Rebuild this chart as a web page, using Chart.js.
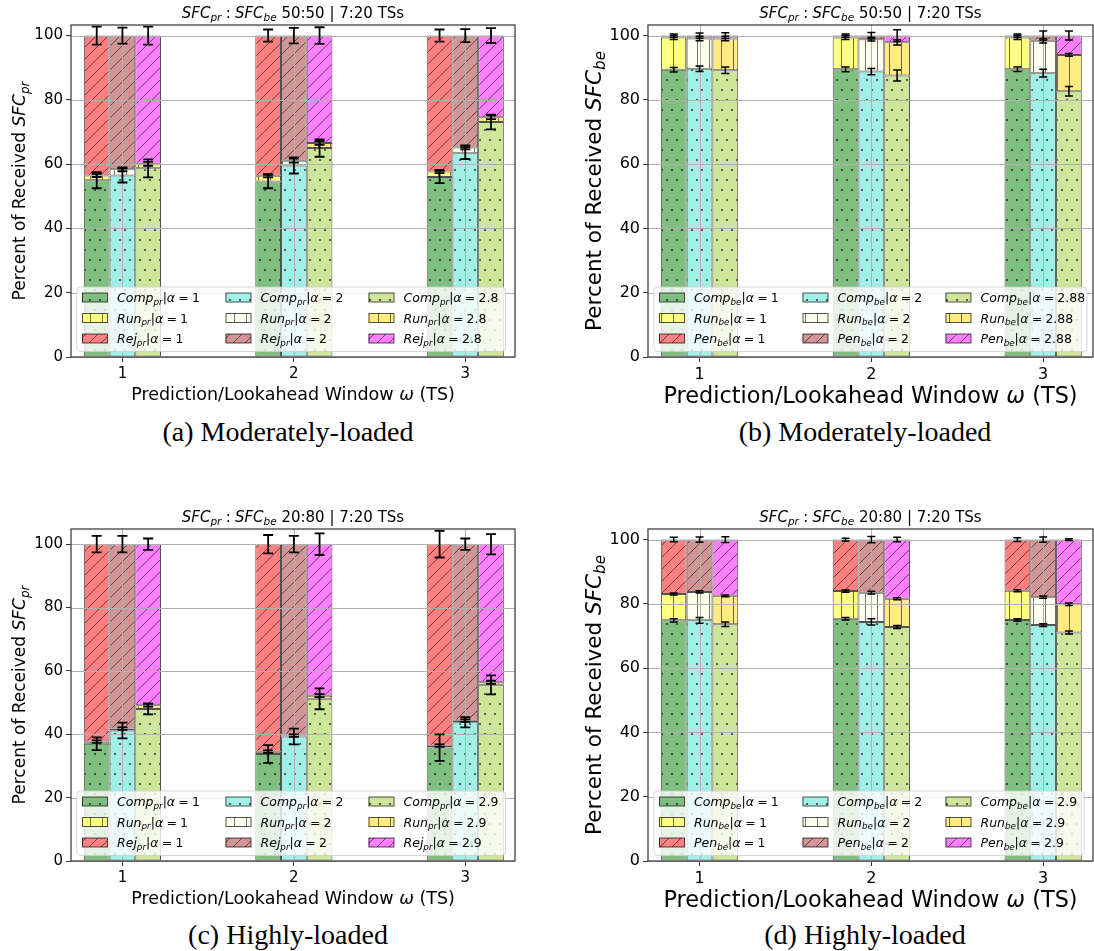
<!DOCTYPE html>
<html>
<head>
<meta charset="utf-8">
<script src="https://cdn.jsdelivr.net/npm/chart.js@4.4.1/dist/chart.umd.min.js"></script>
<style>
  html, body { margin: 0; padding: 0; background: #fff; }
  #fig { position: relative; width: 1094px; height: 951px; overflow: hidden; background: #fff; }
  #fig canvas { position: absolute; }
  .cap { position: absolute; width: 420px; text-align: center; font-family: "Liberation Serif", "DejaVu Serif", serif; font-size: 28px; line-height: 32px; color: #000; white-space: nowrap; }
</style>
</head>
<body>
<div id="fig">
  <canvas id="pa" width="547" height="410" style="left:0;top:0"></canvas>
  <canvas id="pb" width="547" height="410" style="left:547px;top:0"></canvas>
  <canvas id="pc" width="547" height="410" style="left:0;top:504px"></canvas>
  <canvas id="pd" width="547" height="410" style="left:547px;top:504px"></canvas>
  <div class="cap" style="left:78px;top:416px">(a) Moderately-loaded</div>
  <div class="cap" style="left:655px;top:416px">(b) Moderately-loaded</div>
  <div class="cap" style="left:78px;top:919px">(c) Highly-loaded</div>
  <div class="cap" style="left:655px;top:919px">(d) Highly-loaded</div>
</div>
<script>
// Prediction / lookahead windows (x categories)
const windows = [1, 2, 3];
const yTicks = [0, 20, 40, 60, 80, 100];

// (a) priority SFCs, 50:50 mix — rows: alpha, columns: window
const alphasA = ['1', '2', '2.8'];
const compA = [[55.0, 54.6, 56.0], [56.5, 59.6, 63.4], [58.7, 65.0, 73.1]];
const runA  = [[1.5, 1.8, 1.7], [1.9, 1.5, 1.8], [1.4, 1.6, 1.5]];
const rejA  = [[43.5, 43.6, 42.3], [41.6, 38.9, 34.8], [39.9, 33.4, 25.4]];
const compErrA = [[2.5, 2.1, 1.9], [2.2, 2.5, 1.8], [2.8, 2.7, 2.3]];
const runErrA  = [[0.5, 0.5, 0.5], [0.6, 0.6, 0.6], [0.6, 0.6, 0.6]];
const rejErrA  = [[2.8, 1.9, 1.9], [2.5, 2.4, 2.0], [2.8, 2.6, 2.3]];

// (b) best-effort SFCs, 50:50 mix
const alphasB = ['1', '2', '2.88'];
const compB = [[89.4, 89.5, 89.5], [89.7, 88.8, 88.3], [89.2, 87.6, 82.7]];
const runB  = [[10.0, 9.9, 9.9], [9.4, 10.1, 10.1], [9.9, 10.3, 11.3]];
const penB  = [[0.6, 0.6, 0.6], [0.9, 1.1, 1.6], [0.9, 2.1, 6.0]];
const compErrB = [[0.7, 0.75, 0.7], [0.85, 1.0, 1.2], [1.0, 1.7, 1.5]];
const runErrB  = [[0.6, 0.6, 0.6], [0.7, 0.6, 0.7], [0.7, 0.8, 0.4]];
const penErrB  = [[0.5, 0.5, 0.5], [0.8, 1.0, 1.4], [0.9, 1.8, 1.4]];

// (c) priority SFCs, 20:80 mix
const alphasC = ['1', '2', '2.9'];
const compC = [[37.0, 33.8, 35.8], [41.2, 39.3, 43.8], [48.0, 51.2, 55.6]];
const runC  = [[0.7, 0.7, 0.6], [0.6, 0.3, 0.5], [1.2, 1.0, 0.8]];
const rejC  = [[62.3, 65.5, 63.6], [58.2, 60.4, 55.7], [50.8, 47.8, 43.6]];
const compErrC = [[2.0, 2.8, 4.2], [2.5, 2.5, 1.6], [1.7, 3.3, 3.0]];
const runErrC  = [[0.4, 0.4, 0.4], [0.4, 0.4, 0.4], [0.5, 0.5, 0.5]];
const rejErrC  = [[2.6, 2.9, 4.2], [2.6, 2.6, 1.8], [1.8, 3.4, 3.2]];

// (d) best-effort SFCs, 20:80 mix
const alphasD = ['1', '2', '2.9'];
const compD = [[74.9, 75.4, 75.0], [74.9, 74.4, 73.4], [73.7, 72.8, 71.1]];
const runD  = [[8.2, 8.6, 9.1], [8.8, 9.1, 8.7], [8.8, 8.8, 8.8]];
const penD  = [[16.9, 16.0, 15.9], [16.3, 16.5, 17.9], [17.5, 18.4, 20.1]];
const compErrD = [[0.5, 0.4, 0.4], [0.9, 1.0, 0.4], [0.7, 0.45, 0.45]];
const runErrD  = [[0.3, 0.35, 0.3], [0.35, 0.4, 0.35], [0.3, 0.3, 0.4]];
const penErrD  = [[0.7, 0.4, 0.6], [0.8, 1.0, 0.8], [0.9, 0.7, 0.3]];

// ---- styling ----
const SANS = '"DejaVu Sans"';
const barOffsets = [-0.15, 0, 0.15];          // bar position of each alpha around its window
const fills = [
  ['#7fbf7f', '#a0f0e8', '#cde69a'],          // completed
  ['#ffff80', '#fffff0', '#ffeb80'],          // running
  ['#ff8080', '#d29595', '#ff80ff']           // rejected / penalised
];
const hatchKinds = ['dots', 'vline', 'diag'];
const EDGE = 'rgba(0,0,0,0.68)';

function makePattern(ctx, fill, kind) {
  const P = kind === 'dots' ? 10 : 12;
  const h = kind === 'dots' ? 2 * P : P;
  const c = document.createElement('canvas');
  c.width = P; c.height = h;
  const g = c.getContext('2d');
  g.fillStyle = fill;
  g.fillRect(0, 0, P, h);
  if (kind === 'dots') {
    g.fillStyle = 'rgba(0,0,0,0.72)';
    [[0, 0], [P, 0], [0, h], [P, h], [P / 2, P]].forEach(([px, py]) => {
      g.beginPath(); g.arc(px, py, 1.1, 0, Math.PI * 2); g.fill();
    });
  } else if (kind === 'vline') {
    g.strokeStyle = 'rgba(0,0,0,0.55)'; g.lineWidth = 1;
    g.beginPath(); g.moveTo(P / 2 + 0.5, 0); g.lineTo(P / 2 + 0.5, h); g.stroke();
  } else {
    g.strokeStyle = 'rgba(0,0,0,0.55)'; g.lineWidth = 1;
    g.beginPath();
    for (let k = -1; k <= 1; k++) { g.moveTo(k * P, P); g.lineTo(k * P + P, 0); }
    g.stroke();
  }
  return ctx.createPattern(c, 'repeat');
}

// ---- mixed-style text (italic math symbols with subscripts) ----
function runFont(style, size) {
  const s = style === 'sub' ? size * 0.7 : size;
  const it = (style === 'i' || style === 'sub') ? 'italic ' : '';
  return it + s + 'px ' + SANS;
}
function richWidth(ctx, runs, size) {
  let w = 0;
  for (const [t, st] of runs) {
    if (st === 'sp') { w += t * size; continue; }
    ctx.font = runFont(st, size);
    w += ctx.measureText(t).width;
  }
  return w;
}
function drawRich(ctx, runs, x, y, size, align) {
  const w = richWidth(ctx, runs, size);
  let cx = align === 'center' ? x - w / 2 : (align === 'right' ? x - w : x);
  ctx.textAlign = 'left';
  ctx.textBaseline = 'alphabetic';
  for (const [t, st] of runs) {
    if (st === 'sp') { cx += t * size; continue; }
    ctx.font = runFont(st, size);
    ctx.fillText(t, cx, y + (st === 'sub' ? size * 0.22 : 0));
    cx += ctx.measureText(t).width;
  }
  return w;
}
const titleRuns = (ratio) => [['SFC', 'i'], ['pr', 'sub'], [0.28, 'sp'], [':', 'n'], [0.28, 'sp'],
  ['SFC', 'i'], ['be', 'sub'], [' ' + ratio + ' | 7:20 TSs', 'n']];
const yLabelRuns = (sub) => [['Percent of Received ', 'n'], ['SFC', 'i'], [sub, 'sub']];
const xLabelRuns = [['Prediction/Lookahead Window ', 'n'], ['\u03c9', 'i'], [' (TS)', 'n']];
const legendRuns = (part, sub, alpha) => [[part, 'i'], [sub, 'sub'], ['|', 'n'], ['\u03b1', 'i'],
  [0.26, 'sp'], ['=', 'n'], [0.26, 'sp'], [alpha, 'n']];

// ---- decorations drawn around and over the bars ----
const panelPlugin = {
  id: 'panel',
  afterDatasetsDraw(chart) {
    const cfg = chart.options.plugins.panel;
    const { ctx, chartArea: a, scales: { x, y } } = chart;
    ctx.save();
    // grid over the bars
    ctx.strokeStyle = '#b0b0b0';
    ctx.lineWidth = 1;
    ctx.beginPath();
    y.ticks.forEach(t => {
      const py = Math.round(y.getPixelForValue(t.value)) + 0.5;
      ctx.moveTo(a.left, py); ctx.lineTo(a.right, py);
    });
    x.ticks.forEach(t => {
      const px = Math.round(x.getPixelForValue(t.value)) + 0.5;
      ctx.moveTo(px, a.top); ctx.lineTo(px, a.bottom);
    });
    ctx.stroke();
    // error bars at the top of every stacked segment
    ctx.strokeStyle = '#000';
    ctx.lineWidth = cfg.errWidth;
    chart.data.datasets.forEach((ds, i) => {
      const meta = chart.getDatasetMeta(i);
      meta.data.forEach((bar, j) => {
        const top = ds.tops[j], e = ds.errs[j];
        const y1 = y.getPixelForValue(top - e), y2 = y.getPixelForValue(top + e);
        const c = cfg.capHalf;
        ctx.beginPath();
        ctx.moveTo(bar.x, y1); ctx.lineTo(bar.x, y2);
        ctx.moveTo(bar.x - c, y1); ctx.lineTo(bar.x + c, y1);
        ctx.moveTo(bar.x - c, y2); ctx.lineTo(bar.x + c, y2);
        ctx.stroke();
      });
    });
    ctx.restore();
  },
  afterDraw(chart) {
    const cfg = chart.options.plugins.panel;
    const { ctx, chartArea: a } = chart;
    ctx.save();
    // frame
    ctx.strokeStyle = '#333';
    ctx.lineWidth = 1.2;
    ctx.strokeRect(a.left, a.top, a.right - a.left, a.bottom - a.top);

    // legend (3 columns: one per alpha)
    const fs = 12.5;
    const colX = [11, 154.5, 297.5];
    const rowY = [-59.5, -39, -18.5];
    let lastW = 0;
    for (let k = 0; k < 3; k++) {
      lastW = Math.max(lastW, richWidth(ctx, legendRuns(cfg.parts[k], cfg.sub, cfg.alphas[2]), fs));
    }
    const bl = a.left + 5.8, bt = a.bottom - 70, bb = a.bottom - 5.5;
    const br = Math.min(a.left + colX[2] + 35 + lastW + 7, a.right - 6);
    ctx.beginPath();
    ctx.roundRect(bl, bt, br - bl, bb - bt, 4);
    ctx.fillStyle = 'rgba(255,255,255,0.8)';
    ctx.fill();
    ctx.strokeStyle = 'rgba(204,204,204,0.8)';
    ctx.lineWidth = 1;
    ctx.stroke();
    chart.data.datasets.forEach((ds, idx) => {
      const i = Math.floor(idx / 3), k = idx % 3;
      const hx = a.left + colX[i], hy = a.bottom + rowY[k];
      ctx.fillStyle = ds.backgroundColor;
      ctx.fillRect(hx, hy - 4.5, 25.5, 9);
      ctx.strokeStyle = EDGE;
      ctx.lineWidth = 1;
      ctx.strokeRect(hx + 0.5, hy - 4.5, 25, 9);
      ctx.fillStyle = '#000';
      drawRich(ctx, legendRuns(cfg.parts[k], cfg.sub, cfg.alphas[i]), hx + 35, hy + 4.5, fs, 'left');
    });

    // title and axis titles
    ctx.fillStyle = '#000';
    const cx = (a.left + a.right) / 2;
    drawRich(ctx, titleRuns(cfg.ratio), cx, a.top - 7, 15, 'center');
    drawRich(ctx, xLabelRuns, cx, cfg.xLabelY + 0.36 * cfg.xLabelSize, cfg.xLabelSize, 'center');
    ctx.save();
    ctx.translate(cfg.yLabelX, (a.top + a.bottom) / 2);
    ctx.rotate(-Math.PI / 2);
    drawRich(ctx, yLabelRuns(cfg.sub), 0, 0.36 * cfg.yLabelSize, cfg.yLabelSize, 'center');
    ctx.restore();
    ctx.restore();
  }
};

function buildPanel(p) {
  const canvas = document.getElementById(p.id);
  const ctx = canvas.getContext('2d');
  const datasets = [];
  p.alphas.forEach((alpha, i) => {
    const tops = windows.map(() => 0);
    p.values.forEach((series, k) => {
      const vals = series[i];
      vals.forEach((v, j) => { tops[j] += v; });
      datasets.push({
        label: p.parts[k] + '_' + p.sub + '|alpha=' + alpha,
        data: windows.map((w, j) => ({ x: w + barOffsets[i], y: vals[j] })),
        stack: 'alpha' + i,
        backgroundColor: makePattern(ctx, fills[k][i], hatchKinds[k]),
        borderColor: EDGE,
        borderWidth: 1,
        borderSkipped: false,
        inflateAmount: 0,
        grouped: false,
        categoryPercentage: 1,
        barPercentage: 1,
        tops: tops.slice(),
        errs: p.errs[k][i]
      });
    });
  });
  const tickFont = { family: 'DejaVu Sans', size: p.tickSize };
  new Chart(ctx, {
    type: 'bar',
    data: { datasets },
    plugins: [panelPlugin],
    options: {
      responsive: false,
      animation: false,
      devicePixelRatio: 1,
      events: [],
      layout: { padding: { left: 0, top: 25, right: 547 - p.right, bottom: 0 } },
      plugins: {
        legend: { display: false },
        tooltip: { enabled: false },
        title: { display: false },
        panel: {
          parts: p.parts, sub: p.sub, alphas: p.alphas, ratio: p.ratio,
          errWidth: p.errWidth, capHalf: p.capHalf,
          xLabelY: p.xLabelY, xLabelSize: p.xLabelSize,
          yLabelX: p.yLabelX, yLabelSize: p.yLabelSize
        }
      },
      scales: {
        x: {
          type: 'linear', min: 0.7, max: 3.29, offset: false,
          afterBuildTicks: s => { s.ticks = windows.map(v => ({ value: v })); },
          afterFit: s => { s.height = 53; },
          grid: { display: true, drawOnChartArea: false, drawTicks: true, tickLength: 5, color: '#333', offset: false },
          border: { display: false },
          ticks: { font: tickFont, color: '#000', padding: 3, maxRotation: 0, autoSkip: false }
        },
        y: {
          type: 'linear', stacked: true, min: 0, max: p.ymax,
          afterBuildTicks: s => { s.ticks = yTicks.map(v => ({ value: v })); },
          afterFit: s => { s.width = p.left; },
          grid: { display: true, drawOnChartArea: false, drawTicks: true, tickLength: 5, color: '#333' },
          border: { display: false },
          ticks: { font: tickFont, color: '#000', padding: 3 }
        }
      }
    }
  });
}

const small = { left: 71, right: 515, tickSize: 15, errWidth: 1.8, capHalf: 5, xLabelY: 393.3, xLabelSize: 17.5, yLabelX: 19, yLabelSize: 17 };
const large = { left: 101, right: 546, tickSize: 16, errWidth: 1.5, capHalf: 4, xLabelY: 395, xLabelSize: 22.4, yLabelX: 46, yLabelSize: 21.5 };

buildPanel(Object.assign({ id: 'pa', sub: 'pr', parts: ['Comp', 'Run', 'Rej'], ratio: '50:50', alphas: alphasA,
  values: [compA, runA, rejA], errs: [compErrA, runErrA, rejErrA], ymax: 103.3 }, small));
buildPanel(Object.assign({ id: 'pb', sub: 'be', parts: ['Comp', 'Run', 'Pen'], ratio: '50:50', alphas: alphasB,
  values: [compB, runB, penB], errs: [compErrB, runErrB, penErrB], ymax: 103.3 }, large));
buildPanel(Object.assign({ id: 'pc', sub: 'pr', parts: ['Comp', 'Run', 'Rej'], ratio: '20:80', alphas: alphasC,
  values: [compC, runC, rejC], errs: [compErrC, runErrC, rejErrC], ymax: 104.8 }, small));
buildPanel(Object.assign({ id: 'pd', sub: 'be', parts: ['Comp', 'Run', 'Pen'], ratio: '20:80', alphas: alphasD,
  values: [compD, runD, penD], errs: [compErrD, runErrD, penErrD], ymax: 103.3 }, large));
</script>
</body>
</html>
